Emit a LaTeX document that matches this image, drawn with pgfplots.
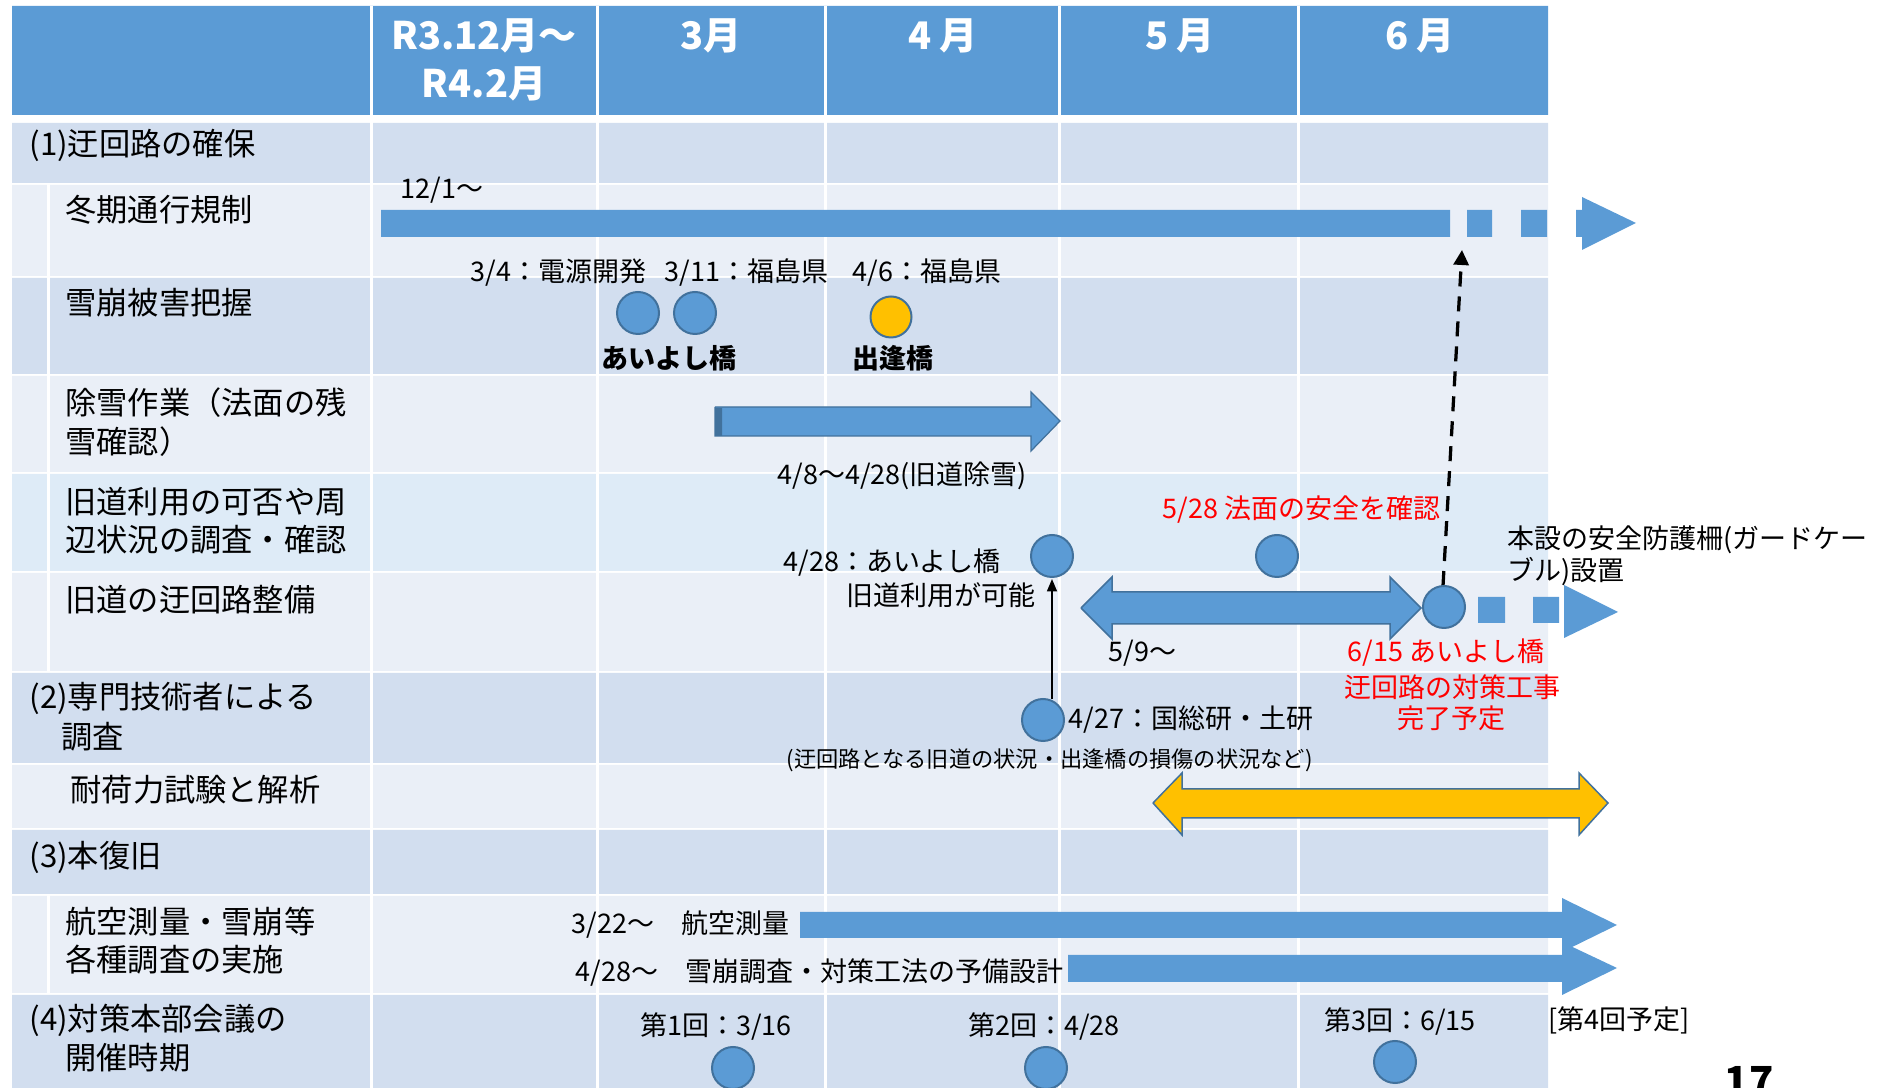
\documentclass[border=0pt]{standalone}
\usepackage{fontspec}
\setmainfont{Noto Sans CJK JP}
\usepackage{pgfplots}
\pgfplotsset{compat=1.18}
\usetikzlibrary{arrows.meta}
\definecolor{hdr}{HTML}{5B9BD5}
\definecolor{dk}{HTML}{D2DEEF}
\definecolor{lt}{HTML}{EAEFF7}
\definecolor{bl}{HTML}{DEEBF7}
\definecolor{bord}{HTML}{41719C}
\definecolor{yel}{HTML}{FFC000}
\definecolor{rd}{HTML}{FF0000}
\newcommand{\fs}[1]{\fontsize{#1}{#1}\selectfont}
\newcommand{\rect}[5]{\addplot[fill=#1,draw=none] coordinates {(#2,#3) (#4,#3) (#4,#5) (#2,#5) (#2,#3)};}
\begin{document}
\begin{tikzpicture}
\begin{axis}[at={(0,0)}, anchor=south west, width=756pt, height=435.2pt, scale only axis,
  xmin=0, xmax=1890, ymin=0, ymax=1088, y dir=reverse, hide axis, clip=false]
% header and rows
\rect{hdr}{12}{6}{1548}{115}
\rect{dk}{12}{123}{1548}{183}
\rect{lt}{12}{185}{1548}{276}
\rect{dk}{12}{278}{1548}{374}
\rect{lt}{12}{376}{1548}{472}
\rect{bl}{12}{474}{1548}{571}
\rect{lt}{12}{573}{1548}{671}
\rect{dk}{12}{673}{1548}{763}
\rect{lt}{12}{765}{1548}{828}
\rect{dk}{12}{830}{1548}{894}
\rect{lt}{12}{896}{1548}{993}
\rect{dk}{12}{995}{1548}{1090}
% white grid lines
\addplot[white, line width=1.2pt] coordinates {(371,6) (371,1090)};
\addplot[white, line width=1.2pt] coordinates {(597,6) (597,1090)};
\addplot[white, line width=1.2pt] coordinates {(825,6) (825,1090)};
\addplot[white, line width=1.2pt] coordinates {(1059,6) (1059,1090)};
\addplot[white, line width=1.2pt] coordinates {(1298,6) (1298,1090)};
\addplot[white, line width=1.2pt] coordinates {(48,184) (48,672)};
\addplot[white, line width=1.2pt] coordinates {(48,895) (48,994)};
% header text
\node[font=\fs{15.2pt}\bfseries, text=white, inner sep=0] at (axis cs:484,36) {R3.12月～};
\node[font=\fs{15.2pt}\bfseries, text=white, inner sep=0] at (axis cs:484,84) {R4.2月};
\node[font=\fs{15.2pt}\bfseries, text=white, inner sep=0] at (axis cs:711,36) {3月};
\node[font=\fs{15.2pt}\bfseries, text=white, inner sep=0] at (axis cs:943,36) {4 月};
\node[font=\fs{15.2pt}\bfseries, text=white, inner sep=0] at (axis cs:1180,36) {5 月};
\node[font=\fs{15.2pt}\bfseries, text=white, inner sep=0] at (axis cs:1420,36) {6 月};
% row labels
\begin{scope}[every node/.style={anchor=west, inner sep=0, font=\fs{12.5pt}}]
\node at (axis cs:29,145) {(1)迂回路の確保};
\node at (axis cs:65,210) {冬期通行規制};
\node at (axis cs:65,303) {雪崩被害把握};
\node at (axis cs:65,403) {除雪作業（法面の残};
\node at (axis cs:65,442) {雪確認）};
\node at (axis cs:65,502) {旧道利用の可否や周};
\node at (axis cs:65,540) {辺状況の調査・確認};
\node at (axis cs:65,600) {旧道の迂回路整備};
\node at (axis cs:29,698) {(2)専門技術者による};
\node at (axis cs:61,737) {調査};
\node at (axis cs:70,790) {耐荷力試験と解析};
\node at (axis cs:29,857) {(3)本復旧};
\node at (axis cs:65,922) {航空測量・雪崩等};
\node at (axis cs:65,960) {各種調査の実施};
\node at (axis cs:29,1020) {(4)対策本部会議の};
\node at (axis cs:65,1058) {開催時期};
\end{scope}
% winter closure bar
\rect{hdr}{381}{210}{1450}{237}
\rect{hdr}{1467}{210}{1492}{237}
\rect{hdr}{1521}{210}{1547}{237}
\rect{hdr}{1576}{210}{1583}{237}
\addplot[fill=hdr, draw=none] coordinates {(1582,197) (1636,223) (1582,250) (1582,197)};
% snow removal arrow
\addplot[fill=hdr, draw=bord, line width=0.5pt] coordinates {(715,407) (1031,407) (1031,392) (1060,421) (1031,451) (1031,436) (715,436) (715,407)};
\rect{bord}{715}{408}{722}{436}
% detour double arrow
\addplot[fill=hdr, draw=bord, line width=0.6pt] coordinates {(1081,608) (1112,577) (1112,592) (1390,592) (1390,577) (1421,608) (1390,639) (1390,624) (1112,624) (1112,639) (1081,608)};
\rect{hdr}{1478}{597}{1505}{623}
\rect{hdr}{1533}{597}{1559}{623}
\addplot[fill=hdr, draw=none] coordinates {(1564,585) (1618,612) (1564,638) (1564,585)};
% yellow double arrow
\addplot[fill=yel, draw=bord, line width=0.6pt] coordinates {(1153,803) (1182,773) (1182,789) (1579,789) (1579,773) (1608,803) (1579,835) (1579,818) (1182,818) (1182,835) (1153,803)};
% survey arrows
\addplot[fill=hdr, draw=none] coordinates {(800,912) (1562,912) (1562,898) (1617,925) (1562,952) (1562,938) (800,938) (800,912)};
\addplot[fill=hdr, draw=none] coordinates {(1068,955) (1562,955) (1562,942) (1617,968) (1562,995) (1562,982) (1068,982) (1068,955)};
% connecting arrows
\addplot[black, line width=1.3pt, dash pattern=on 6pt off 4pt, -{Triangle[width=6pt,length=6pt]}] coordinates {(1443,586) (1462,250)};
\addplot[black, line width=0.7pt, -{Triangle[width=4pt,length=5pt]}] coordinates {(1052,699) (1052,579)};
% milestone circles
\addplot[only marks, mark=*, mark size=8.4pt, mark options={fill=hdr, draw=bord, line width=0.8pt}] coordinates {(638,313) (695,313) (1052,556) (1277,556) (1444,607) (1043,720) (733,1068) (1046,1068) (1395,1062)};
\addplot[only marks, mark=*, mark size=8.2pt, mark options={fill=yel, draw=bord, line width=0.8pt}] coordinates {(891,317)};
% annotations
\begin{scope}[every node/.style={anchor=west, inner sep=0, font=\fs{10.8pt}}]
\node at (axis cs:400,190) {12/1～};
\node at (axis cs:470,273) {3/4：電源開発};
\node at (axis cs:664,273) {3/11：福島県};
\node at (axis cs:852,273) {4/6：福島県};
\node at (axis cs:777,476) {4/8～4/28(旧道除雪)};
\node[text=rd] at (axis cs:1162,510) {5/28 法面の安全を確認};
\node at (axis cs:783,563) {4/28：あいよし橋};
\node at (axis cs:846,595) {旧道利用が可能};
\node at (axis cs:1507,540) {本設の安全防護柵(ガードケー};
\node at (axis cs:1507,572) {ブル)設置};
\node at (axis cs:1108,653) {5/9～};
\node at (axis cs:1068,720) {4/27：国総研・土研};
\node[font=\fs{8.9pt}] at (axis cs:786,760) {(迂回路となる旧道の状況・出逢橋の損傷の状況など)};
\node at (axis cs:571,925) {3/22～　航空測量};
\node at (axis cs:575,973) {4/28～　雪崩調査・対策工法の予備設計};
\node at (axis cs:1548,1020) {[第4回予定]};
\end{scope}
\begin{scope}[every node/.style={anchor=center, inner sep=0, font=\fs{10.8pt}}]
\node[font=\fs{10.8pt}\bfseries] at (axis cs:669,358) {あいよし橋};
\node[font=\fs{10.8pt}\bfseries] at (axis cs:893,358) {出逢橋};
\node[text=rd] at (axis cs:1446,653) {6/15 あいよし橋};
\node[text=rd] at (axis cs:1452,687) {迂回路の対策工事};
\node[text=rd] at (axis cs:1451,718) {完了予定};
\node at (axis cs:716,1027) {第1回：3/16};
\node at (axis cs:1044,1027) {第2回：4/28};
\node at (axis cs:1400,1022) {第3回：6/15};
\end{scope}
\node[anchor=base, inner sep=0, font=\fs{16pt}\bfseries] at (axis cs:1749,1096) {17};
\end{axis}
\pgfresetboundingbox
\path[use as bounding box] (0,0) rectangle (756pt,435.2pt);
\end{tikzpicture}
\end{document}
